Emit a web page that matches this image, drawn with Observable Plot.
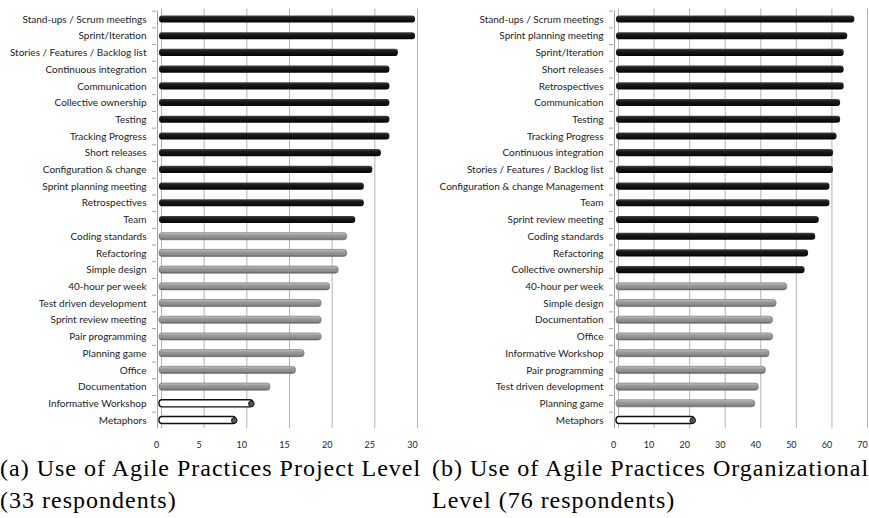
<!DOCTYPE html>
<html><head><meta charset="utf-8">
<script src="https://cdn.jsdelivr.net/npm/d3@7"></script>
<script src="https://cdn.jsdelivr.net/npm/@observablehq/plot@0.6"></script>
<style>
body{margin:0;background:#fff;width:869px;height:518px;position:relative;overflow:hidden}
#a{position:absolute;left:0;top:0}
#b{position:absolute;left:430px;top:0}
.cap{position:absolute;font-family:"Liberation Serif",serif;font-size:24px;letter-spacing:1px;line-height:32px;white-space:nowrap;color:#000}
</style></head><body>
<svg width="0" height="0" style="position:absolute">
<defs>
<linearGradient id="gDark" x1="0" y1="0" x2="0" y2="1">
<stop offset="0" stop-color="#4a4a4a"/><stop offset="0.3" stop-color="#1c1c1c"/><stop offset="1" stop-color="#050505"/>
</linearGradient>
<linearGradient id="gGrey" x1="0" y1="0" x2="0" y2="1">
<stop offset="0" stop-color="#c4c4c4"/><stop offset="0.35" stop-color="#9a9a9a"/><stop offset="0.75" stop-color="#8a8a8a"/><stop offset="1" stop-color="#5e5e5e"/>
</linearGradient>
</defs>
</svg>
<div id="a"></div><div id="b"></div>
<div class="cap" style="left:0;top:452px">(a) Use of Agile Practices Project Level<br>(33 respondents)</div>
<div class="cap" style="left:432px;top:452px">(b) Use of Agile Practices Organizational<br>Level (76 respondents)</div>
<script>
// Panel (a): project level, 33 respondents
const projectPractices = ["Stand-ups / Scrum meetings","Sprint/Iteration","Stories / Features / Backlog list","Continuous integration","Communication","Collective ownership","Testing","Tracking Progress","Short releases","Configuration & change","Sprint planning meeting","Retrospectives","Team","Coding standards","Refactoring","Simple design","40-hour per week","Test driven development","Sprint review meeting","Pair programming","Planning game","Office","Documentation","Informative Workshop","Metaphors"];
const projectCounts = [30,30,28,27,27,27,27,27,26,25,24,24,23,22,22,21,20,19,19,19,17,16,13,11,9];
const projectLevels = ["high","high","high","high","high","high","high","high","high","high","high","high","high",
  "medium","medium","medium","medium","medium","medium","medium","medium","medium","medium",
  "low","low"];
const projectTicks = [0,5,10,15,20,25,30];

// Panel (b): organizational level, 76 respondents
const orgPractices = ["Stand-ups / Scrum meetings","Sprint planning meeting","Sprint/Iteration","Short releases","Retrospectives","Communication","Testing","Tracking Progress","Continuous integration","Stories / Features / Backlog list","Configuration & change Management","Team","Sprint review meeting","Coding standards","Refactoring","Collective ownership","40-hour per week","Simple design","Documentation","Office","Informative Workshop","Pair programming","Test driven development","Planning game","Metaphors"];
const orgCounts = [67,65,64,64,64,63,63,62,61,61,60,60,57,56,54,53,48,45,44,44,43,42,40,39,22];
const orgLevels = ["high","high","high","high","high","high","high","high","high","high","high","high","high","high","high","high",
  "medium","medium","medium","medium","medium","medium","medium","medium",
  "low"];
const orgTicks = [0,10,20,30,40,50,60,70];

function chart(practices, counts, levels, ticks, opts) {
  const data = practices.map((p, i) => ({practice: p, count: counts[i], level: levels[i]}));
  const inset = 4.8;
  return Plot.plot({
    width: opts.width,
    height: 455,
    marginLeft: opts.marginLeft,
    marginRight: opts.marginRight,
    marginTop: 10.65,
    marginBottom: 26.65,
    style: {fontFamily: "Lato, 'Open Sans', sans-serif", fontSize: "10px", color: "#222", background: "transparent"},
    x: {domain: [ticks[0], ticks[ticks.length - 1]]},
    y: {domain: practices, padding: 0, round: false},
    marks: [
      Plot.ruleX(ticks, {stroke: "#b4b4b4", strokeWidth: 1, dx: 5, insetTop: -2}),
      Plot.ruleX([0], {stroke: "#a0a0a0", strokeWidth: 1, dx: 1}),
      Plot.axisY({tickSize: 4, tickFormat: () => "", dy: -8.35, stroke: "#a0a0a0", label: null}),
      Plot.axisY({tickSize: 0, tickPadding: 10, fontSize: 10, fill: "#222", label: null}),
      Plot.axisX({ticks: ticks, tickSize: 0, tickPadding: 13, fontSize: 9, fill: "#222", label: null}),
      Plot.barX(data.filter(d => d.level === "high"), {x: "count", y: "practice", fill: "url(#gDark)", insetTop: inset, insetBottom: inset, dx: 3, rx: 3}),
      Plot.barX(data.filter(d => d.level === "medium"), {x: "count", y: "practice", fill: "url(#gGrey)", stroke: "#6a6a6a", strokeWidth: 0.6, insetTop: inset, insetBottom: inset, dx: 3, rx: 3}),
      Plot.barX(data.filter(d => d.level === "low"), {x: "count", y: "practice", fill: "#fff", stroke: "#111", strokeWidth: 1.4, insetTop: inset, insetBottom: inset, dx: 3, rx: 3}),
      Plot.dot(data.filter(d => d.level === "low"), {x: "count", y: "practice", r: 2.8, fill: "#555", stroke: "#111", strokeWidth: 1, dx: 1})
    ]
  });
}

document.getElementById("a").appendChild(chart(projectPractices, projectCounts, projectLevels, projectTicks, {width: 430, marginLeft: 156, marginRight: 18}));
document.getElementById("b").appendChild(chart(orgPractices, orgCounts, orgLevels, orgTicks, {width: 439, marginLeft: 183, marginRight: 7}));
</script>
</body></html>
